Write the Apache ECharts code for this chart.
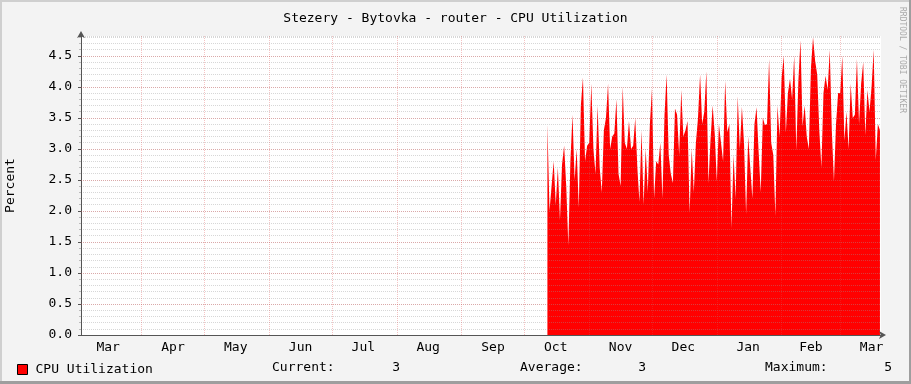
<!DOCTYPE html>
<html><head><meta charset="utf-8">
<script src="https://cdn.jsdelivr.net/npm/echarts@6/dist/echarts.min.js"></script>
<style>html,body{margin:0;padding:0;background:#f3f3f3}#c{width:911px;height:384px}</style>
</head><body><div id="c"></div>
<script>
const titleText = 'Stezery - Bytovka - router - CPU Utilization';
const seriesName = 'CPU Utilization';
const yAxisName = 'Percent';
const watermark = 'RRDTOOL / TOBI OETIKER';
const axisStart = '2008-03-03T00:00:00Z';
const axisEnd = '2009-03-20T12:00:00Z';
const dataStart = '2008-10-12T00:00:00Z';
// daily CPU utilization values (%) from dataStart
const cpuValues = [
 3.4,2.0,2.4,2.8,2.1,2.7,1.85,2.75,3.05,2.4,1.45,2.8,3.55,2.5,3.0,2.05,3.7,4.15,2.8,3.05,
 3.1,4.05,3.0,2.6,3.7,2.7,2.3,3.3,3.5,4.05,3.0,3.2,3.25,3.8,2.6,2.4,4.0,3.1,3.0,
 3.45,3.0,3.05,3.5,2.7,2.15,3.3,2.1,3.0,2.3,3.4,3.97,2.2,2.8,2.75,3.1,2.2,3.55,4.2,2.9,
 2.6,2.45,3.65,3.55,2.9,3.95,3.2,3.3,3.45,1.97,3.0,2.3,3.1,3.5,4.2,3.4,3.6,4.25,2.45,3.15,3.7,
 3.25,2.47,3.4,3.1,2.8,4.1,3.27,3.4,1.72,2.9,2.2,3.85,3.0,3.68,3.1,1.95,3.2,2.7,2.2,3.4,
 3.67,2.95,2.3,3.5,3.38,3.4,4.45,3.1,2.9,1.92,3.7,3.2,4.15,4.5,3.26,3.9,4.13,3.8,4.5,2.97,4.1,
 4.75,3.37,3.7,3.2,3.0,4.3,4.8,4.42,4.2,3.3,2.7,3.9,4.18,3.95,4.6,3.29,2.48,3.4,3.9,3.9,
 4.5,3.13,3.6,3.0,4.05,3.5,3.55,4.45,3.4,4.05,4.4,3.22,3.95,3.6,4.0,4.6,2.82,3.4,3.3
];
const monthStarts = ['2008-04-01','2008-05-01','2008-06-01','2008-07-01','2008-08-01','2008-09-01',
 '2008-10-01','2008-11-01','2008-12-01','2009-01-01','2009-02-01','2009-03-01'];
const monthLabelDates = ['2008-03-16','2008-04-16','2008-05-16','2008-06-16','2008-07-16','2008-08-16',
 '2008-09-16','2008-10-16','2008-11-16','2008-12-16','2009-01-16','2009-02-15','2009-03-16'];
const monthNames = ['Jan','Feb','Mar','Apr','May','Jun','Jul','Aug','Sep','Oct','Nov','Dec'];
const yMax = 4.82;
const yMinorStep = 0.1;
const yMajorStep = 0.5;

const mono = 'DejaVu Sans Mono';
const DAY = 86400000;
const t0 = Date.parse(dataStart);
const seriesData = cpuValues.map((v, i) => [t0 + i * DAY, v]);
const cur = cpuValues[cpuValues.length - 1];
const avg = cpuValues.reduce((a, b) => a + b, 0) / cpuValues.length;
const mx = Math.max(...cpuValues);

const minorColor = 'rgba(150,150,150,0.38)';
const majorColor = 'rgba(225,70,70,0.32)';

const chart = echarts.init(document.getElementById('c'), null, {renderer: 'canvas'});
const txt = (x, y, text, align) => ({type: 'text', x: x, y: y, silent: true,
  style: {text: text, fontFamily: mono, fontSize: 13, fill: '#000', align: align || 'left', verticalAlign: 'middle'}});

chart.setOption({
  backgroundColor: '#f3f3f3',
  animation: false,
  title: {text: titleText, left: 'center', top: 7,
    textStyle: {fontFamily: mono, fontSize: 13, fontWeight: 'normal', color: '#000'}},
  grid: {left: 81, right: 30, top: 36, bottom: 49, show: true, backgroundColor: '#fff', borderWidth: 0,
    containLabel: false, outerBoundsMode: 'none'},
  legend: {left: 17, top: 363, padding: 0, itemWidth: 10, itemHeight: 10, icon: 'rect',
    itemStyle: {borderColor: '#000', borderWidth: 1},
    textStyle: {fontFamily: mono, fontSize: 13, color: '#000', padding: [0, 0, 0, 3]},
    data: [seriesName]},
  xAxis: {type: 'value', min: Date.parse(axisStart), max: Date.parse(axisEnd),
    axisLine: {show: true, lineStyle: {color: '#555', width: 1}, symbol: ['none', 'arrow'], symbolSize: [6, 7], symbolOffset: [0, 5]},
    axisTick: {show: false}, splitLine: {show: false},
    axisLabel: {customValues: monthLabelDates.map(d => Date.parse(d + 'T00:00:00Z')),
      formatter: v => monthNames[new Date(v).getUTCMonth()],
      fontFamily: mono, fontSize: 13, color: '#000', margin: 6, hideOverlap: false},
    z: 5},
  yAxis: [
    {type: 'value', min: 0, max: yMax, interval: yMinorStep, position: 'left',
      name: yAxisName, nameLocation: 'middle', nameGap: 64, nameRotate: 90,
      nameTextStyle: {fontFamily: mono, fontSize: 13, color: '#000'},
      axisLine: {show: true, lineStyle: {color: '#555'}, symbol: ['none', 'arrow'], symbolSize: [6, 7], symbolOffset: [0, 5]},
      axisTick: {show: true, length: 2, lineStyle: {color: '#bbb'}},
      axisLabel: {interval: 0, fontFamily: mono, fontSize: 13, color: '#000', margin: 9,
        formatter: v => (Math.abs(v / yMajorStep - Math.round(v / yMajorStep)) < 1e-6 && v <= 4.5 + 1e-6) ? v.toFixed(1) : ''},
      splitLine: {show: true, showMaxLine: true, lineStyle: {color: minorColor, type: [1, 1], width: 1}},
      z: 5},
    {type: 'value', min: 0, max: yMax, interval: yMajorStep, position: 'left',
      axisLine: {show: false}, axisLabel: {show: false},
      axisTick: {show: true, length: 3, lineStyle: {color: '#555'}},
      splitLine: {show: true, showMinLine: false, showMaxLine: false, lineStyle: {color: majorColor, type: [1, 1], width: 1}},
      z: 6}
  ],
  series: [{
    name: seriesName, type: 'line', data: seriesData, yAxisIndex: 0,
    symbol: 'none', showSymbol: false, sampling: null, connectNulls: false,
    lineStyle: {width: 0}, areaStyle: {color: '#ff0000', opacity: 1},
    itemStyle: {color: '#ff0000'}, z: 2,
    markLine: {silent: true, symbol: 'none', label: {show: false}, animation: false,
      lineStyle: {color: majorColor, type: [1, 1], width: 1},
      data: monthStarts.map(d => ({xAxis: Date.parse(d + 'T00:00:00Z')}))}
  }],
  graphic: [
    txt(272, 368, 'Current:'), txt(400, 368, cur.toFixed(0), 'right'),
    txt(520, 368, 'Average:'), txt(646, 368, avg.toFixed(0), 'right'),
    txt(765, 368, 'Maximum:'), txt(892, 368, mx.toFixed(0), 'right'),
    {type: 'text', x: 902, y: 60, rotation: -Math.PI / 2, silent: true,
      style: {text: watermark, fontFamily: mono, fontSize: 8, fill: '#aaa', align: 'center', verticalAlign: 'middle'}},
    {type: 'rect', shape: {x: 0, y: 0, width: 911, height: 2}, style: {fill: '#cfcfcf'}, silent: true},
    {type: 'rect', shape: {x: 0, y: 0, width: 2, height: 384}, style: {fill: '#cfcfcf'}, silent: true},
    {type: 'rect', shape: {x: 0, y: 381, width: 911, height: 3}, style: {fill: '#9e9e9e'}, silent: true},
    {type: 'rect', shape: {x: 909, y: 0, width: 2, height: 384}, style: {fill: '#9e9e9e'}, silent: true}
  ]
});
</script></body></html>
